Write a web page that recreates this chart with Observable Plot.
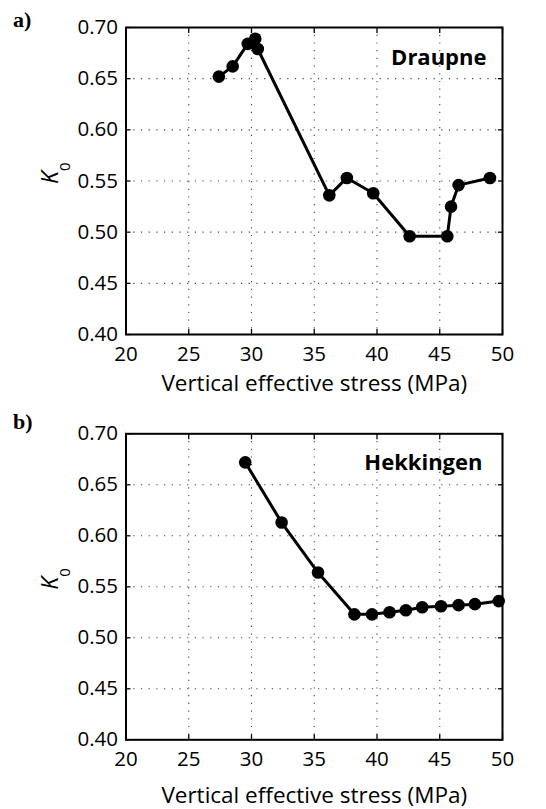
<!DOCTYPE html>
<html>
<head>
<meta charset="utf-8">
<script src="https://cdn.jsdelivr.net/npm/d3@7"></script>
<script src="https://cdn.jsdelivr.net/npm/@observablehq/plot@0.6"></script>
<style>
  html, body { margin: 0; padding: 0; background: #fff; }
  #chart { width: 546px; }
  #chart svg { display: block; }
</style>
</head>
<body>
<div id="chart"></div>
<script>
// Panel a) Draupne
const draupneStress = [27.4, 28.5, 29.7, 30.3, 30.5, 36.2, 37.6, 39.7, 42.6, 45.6, 45.9, 46.5, 49.0];
const draupneK0     = [0.652, 0.662, 0.684, 0.689, 0.679, 0.536, 0.553, 0.538, 0.496, 0.496, 0.525, 0.546, 0.553];
// Panel b) Hekkingen
const hekkingenStress = [29.5, 32.4, 35.3, 38.2, 39.6, 41.0, 42.3, 43.6, 45.1, 46.5, 47.8, 49.7];
const hekkingenK0     = [0.672, 0.613, 0.564, 0.523, 0.523, 0.525, 0.527, 0.530, 0.531, 0.532, 0.533, 0.536];

const xTicks = [20, 25, 30, 35, 40, 45, 50];
const yTicks = [0.40, 0.45, 0.50, 0.55, 0.60, 0.65, 0.70];
const xLabel = "Vertical effective stress (MPa)";

function panel(stress, k0, name, letter, opts) {
  const data = stress.map((s, i) => ({s, k: k0[i]}));
  return Plot.plot({
    width: 546,
    height: opts.height,
    marginLeft: 125.5,
    marginRight: 44,
    marginTop: opts.top,
    marginBottom: opts.bottom,
    style: {fontFamily: "'Open Sans', sans-serif", fontSize: "20px", background: "#fff", color: "#000"},
    x: {domain: [20, 50], ticks: xTicks, label: null},
    y: {domain: [0.40, 0.70], ticks: yTicks, label: null},
    marks: [
      Plot.gridX(xTicks, {stroke: "#444", strokeOpacity: 1, strokeWidth: 1.1, strokeDasharray: "1.2,6.5"}),
      Plot.gridY(yTicks, {stroke: "#444", strokeOpacity: 1, strokeWidth: 1.1, strokeDasharray: "1.2,6.5"}),
      Plot.axisX(xTicks, {anchor: "bottom", tickSize: -5, text: null, strokeWidth: 1.3}),
      Plot.axisX(xTicks, {anchor: "top", tickSize: -5, text: null, strokeWidth: 1.3}),
      Plot.axisY(yTicks, {anchor: "left", tickSize: -5, text: null, strokeWidth: 1.3}),
      Plot.axisY(yTicks, {anchor: "right", tickSize: -5, text: null, strokeWidth: 1.3}),
      Plot.axisX(xTicks, {anchor: "bottom", tickSize: 0, tickPadding: 12, fontSize: 20.5, label: null}),
      Plot.axisY(yTicks, {anchor: "left", tickSize: 0, tickPadding: 8, fontSize: 20.5, label: null, tickFormat: d3.format(".2f")}),
      Plot.frame({stroke: "#000", strokeWidth: 2}),
      Plot.line(data, {x: "s", y: "k", stroke: "#000", strokeWidth: 3}),
      Plot.dot(data, {x: "s", y: "k", r: 6.3, fill: "#000", stroke: "none"}),
      Plot.text([name], {frameAnchor: "top-right", dx: opts.nameDx, dy: opts.nameDy, lineAnchor: "middle", text: d => d, fontWeight: "bold", fontSize: 22, textAnchor: "end"}),
      Plot.text([xLabel], {frameAnchor: "bottom", dy: opts.xLabelDy, lineAnchor: "middle", text: d => d, fontSize: 22.5}),
      Plot.text(["K"], {frameAnchor: "left", dx: -75, dy: 3, lineAnchor: "middle", text: d => d, rotate: -90, fontSize: 23, fontStyle: "italic"}),
      Plot.text(["0"], {frameAnchor: "left", dx: -61, dy: -10, lineAnchor: "middle", text: d => d, rotate: -90, fontSize: 15}),
      Plot.text([letter], {frameAnchor: "top-left", dx: -113, dy: opts.letterDy, lineAnchor: "top", text: d => d, fontSize: 22, fontWeight: "bold", fontFamily: "'Liberation Serif', serif", textAnchor: "start"})
    ]
  });
}

const chart = document.getElementById("chart");
chart.append(panel(draupneStress, draupneK0, "Draupne", "a)", {height: 400, top: 27, bottom: 66, nameDx: -16, nameDy: 30, xLabelDy: 49, letterDy: -16}));
chart.append(panel(hekkingenStress, hekkingenK0, "Hekkingen", "b)", {height: 409, top: 33.3, bottom: 69.7, nameDx: -20, nameDy: 29, xLabelDy: 56, letterDy: -20}));
</script>
</body>
</html>
